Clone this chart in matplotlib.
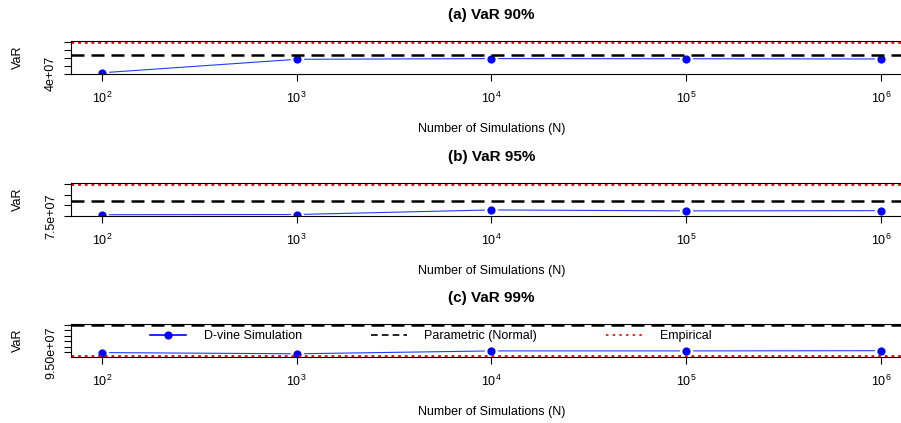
import numpy as np
import matplotlib.pyplot as plt
from matplotlib.lines import Line2D

plt.rcParams['font.family'] = ['Liberation Sans', 'DejaVu Sans']
plt.rcParams['mathtext.fontset'] = 'custom'
plt.rcParams['mathtext.rm'] = 'Liberation Sans'
plt.rcParams['mathtext.it'] = 'Liberation Sans:italic'
plt.rcParams['mathtext.bf'] = 'Liberation Sans:bold'
plt.rcParams['font.size'] = 9

# Data
n_sims = [1e2, 1e3, 1e4, 1e5, 1e6]
titles = ['(a) VaR 90%', '(b) VaR 95%', '(c) VaR 99%']
dvine_90 = [4.13e7, 5.80e7, 5.89e7, 5.87e7, 5.84e7]
dvine_95 = [7.56e7, 7.57e7, 7.785e7, 7.74e7, 7.75e7]
dvine_99 = [9.498e7, 9.487e7, 9.513e7, 9.513e7, 9.515e7]
parametric = [6.29e7, 8.21e7, 9.7455e7]
empirical = [7.92e7, 8.99e7, 9.469e7]
yticks_90 = [4e7, 5e7, 6e7, 7e7, 8e7]
yticks_95 = [7.5e7, 8.0e7, 8.5e7, 9.0e7]
yticks_99 = [9.50e7, 9.55e7, 9.60e7, 9.65e7, 9.70e7, 9.75e7]
first_labels = ['4e+07', '7.5e+07', '9.50e+07']

dvine = [dvine_90, dvine_95, dvine_99]
yticks = [yticks_90, yticks_95, yticks_99]

W, H = 901, 423
fig = plt.figure(figsize=(W / 100, H / 100), dpi=100)

left_px, right_px = 70.8, 912
tops_px = [41, 183, 324]
h_px = 33

xlog = np.log10(n_sims)
xr = xlog.max() - xlog.min()
xlim = (10 ** (xlog.min() - 0.04 * xr), 10 ** (xlog.max() + 0.04 * xr))

for i in range(3):
    ax = fig.add_axes([left_px / W, (H - tops_px[i] - h_px) / H,
                       (right_px - left_px) / W, h_px / H])
    vals = dvine[i] + [parametric[i], empirical[i]]
    lo, hi = min(vals), max(vals)
    pad = 0.04 * (hi - lo)

    # D-vine line with gaps around the points (like R type="b")
    ax.plot(n_sims, dvine[i], color='#1f3dff', lw=0.8, zorder=1.9)
    ax.plot(n_sims, dvine[i], ls='none', marker='o', ms=9.6, mfc='white',
            mec='none', zorder=2.0)
    ax.plot(n_sims, dvine[i], ls='none', marker='o', ms=4.9, mfc='blue',
            mec='blue', zorder=2.1)
    ax.axhline(parametric[i], color='black', lw=1.8, ls=(0, (5.2, 2.8)),
               zorder=2.2)
    ax.axhline(empirical[i], color='red', lw=2.0, ls=(0, (1.0, 1.4)),
               zorder=2.3)

    ax.set_xscale('log')
    ax.set_xlim(*xlim)
    ax.set_ylim(lo - pad, hi + pad)
    ax.set_xticks(n_sims)
    ax.set_xticklabels(['$10^{%d}$' % int(v) for v in xlog])
    ax.xaxis.set_minor_locator(plt.NullLocator())
    ax.set_yticks(yticks[i])
    ax.set_yticklabels([first_labels[i]] + [''] * (len(yticks[i]) - 1),
                       rotation=90, va='center')
    ax.tick_params(axis='both', direction='out', length=5, width=0.8,
                   labelsize=9)
    ax.tick_params(axis='x', pad=7)
    ax.tick_params(axis='y', pad=5)
    for sp in ax.spines.values():
        sp.set_linewidth(0.8)

    ax.set_title(titles[i], fontsize=11, fontweight='bold', pad=16)
    ax.annotate('Number of Simulations (N)', xy=(0.5, 0),
                xycoords='axes fraction', xytext=(0, -55),
                textcoords='offset pixels', ha='center', va='center',
                fontsize=9)
    ax.annotate('VaR', xy=(0, 0.5), xycoords='axes fraction',
                xytext=(18 - left_px, 0), textcoords='offset pixels',
                ha='center', va='center', rotation=90, fontsize=9)

    if i == 2:
        handles = [
            Line2D([], [], color='blue', lw=1.2, marker='o', ms=4.9),
            Line2D([], [], color='black', lw=1.2, ls=(0, (4, 2.5))),
            Line2D([], [], color='red', lw=1.2, ls=(0, (1.5, 2.5))),
        ]
        ax.legend(handles, ['D-vine Simulation', 'Parametric (Normal)',
                            'Empirical'],
                  ncol=3, frameon=False, loc='center left',
                  bbox_to_anchor=((150 - left_px) / (right_px - left_px),
                                  (357 - 336) / h_px),
                  handlelength=2.9, handletextpad=1.4, columnspacing=5.5,
                  fontsize=9, borderaxespad=0, borderpad=0)

fig.savefig('out.png', dpi=100)
